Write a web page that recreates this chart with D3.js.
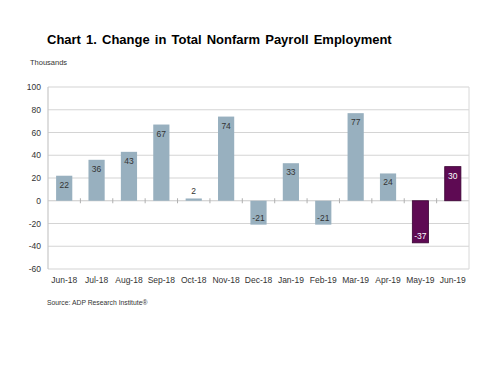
<!DOCTYPE html>
<html>
<head>
<meta charset="utf-8">
<script src="https://cdn.jsdelivr.net/npm/d3@7"></script>
<style>
body { margin: 0; background: #fff; }
text { font-family: "Liberation Sans", Arial, sans-serif; }
</style>
</head>
<body>
<div id="chart"></div>
<script>
var w = 500;
var h = 374;

var months = ["Jun-18","Jul-18","Aug-18","Sep-18","Oct-18","Nov-18","Dec-18","Jan-19","Feb-19","Mar-19","Apr-19","May-19","Jun-19"];
var values = [22, 36, 43, 67, 2, 74, -21, 33, -21, 77, 24, -37, 30];
var highlight = [false,false,false,false,false,false,false,false,false,false,false,true,true];
var yTicks = [-60, -40, -20, 0, 20, 40, 60, 80, 100];

var svg = d3.select("#chart").append("svg").attr("width", w).attr("height", h);

var padL = 48, padR = 469, padT = 87, padB = 269;

var x = d3.scaleBand().domain(months).range([padL, padR]).paddingInner(0.5).paddingOuter(0.25);
var y = d3.scaleLinear().domain([-60, 100]).range([padB, padT]);

// title
svg.append("text").text("Chart 1. Change in Total Nonfarm Payroll Employment")
	.attr("x", 47).attr("y", 44).attr("font-size", 13).attr("font-weight", "bold")
	.attr("word-spacing", 1.5).attr("fill", "#000");
svg.append("text").text("Thousands")
	.attr("x", 30).attr("y", 65).attr("font-size", 7.5).attr("fill", "#333");

// gridlines
svg.append("g").selectAll("line").data(yTicks).enter().append("line")
	.attr("x1", padL).attr("x2", padR)
	.attr("y1", function(d) { return y(d); }).attr("y2", function(d) { return y(d); })
	.attr("stroke", function(d) { return d == 0 ? "#c8c8c8" : "#d4d4d4"; })
	.attr("stroke-width", 1.2);

// frame: left axis + right edge
svg.append("line").attr("x1", padL).attr("x2", padL).attr("y1", padT).attr("y2", padB)
	.attr("stroke", "#c8c8c8").attr("stroke-width", 1.2);
svg.append("line").attr("x1", padR).attr("x2", padR).attr("y1", padT).attr("y2", padB)
	.attr("stroke", "#d8d8d8").attr("stroke-width", 1);

// y labels
svg.append("g").selectAll("text").data(yTicks).enter().append("text")
	.text(function(d) { return d; })
	.attr("x", 41).attr("y", function(d) { return y(d) + 3; })
	.attr("text-anchor", "end").attr("font-size", 8.5).attr("fill", "#333");

// category ticks on zero line
var step = x.step();
var bounds = months.slice(1).map(function(m) { return x(m) - x.paddingInner() * step / 2; });
svg.append("g").selectAll("line").data(bounds).enter().append("line")
	.attr("x1", function(d) { return d; }).attr("x2", function(d) { return d; })
	.attr("y1", y(0) - 2.5).attr("y2", y(0) + 2.5)
	.attr("stroke", "#b0b0b0").attr("stroke-width", 1);

// bars
svg.append("g").selectAll("rect").data(values).enter().append("rect")
	.attr("x", function(d, i) { return x(months[i]); })
	.attr("y", function(d) { return y(Math.max(0, d)); })
	.attr("width", x.bandwidth())
	.attr("height", function(d) { return Math.abs(y(d) - y(0)); })
	.attr("fill", function(d, i) { return highlight[i] ? "#5e0a53" : "#98b0bf"; })
	.attr("stroke", function(d, i) { return highlight[i] ? "#3a0333" : "none"; })
	.attr("stroke-width", 0.8);

// value labels
svg.append("g").selectAll("text").data(values).enter().append("text")
	.text(function(d) { return d; })
	.attr("x", function(d, i) { return x(months[i]) + x.bandwidth() / 2; })
	.attr("y", function(d) {
		if (Math.abs(d) < 5) return y(d) - 4;
		return d > 0 ? y(d) + 12 : y(d) - 4;
	})
	.attr("text-anchor", "middle").attr("font-size", 8.5)
	.attr("fill", function(d, i) { return highlight[i] ? "#fff" : "#333"; });

// x labels
svg.append("g").selectAll("text").data(months).enter().append("text")
	.text(function(d) { return d; })
	.attr("x", function(d) { return x(d) + x.bandwidth() / 2; })
	.attr("y", 283)
	.attr("text-anchor", "middle").attr("font-size", 8.5).attr("fill", "#333");

svg.append("text").text("Source: ADP Research Institute\u00ae")
	.attr("x", 47).attr("y", 305).attr("font-size", 6.8).attr("fill", "#333");
</script>
</body>
</html>
